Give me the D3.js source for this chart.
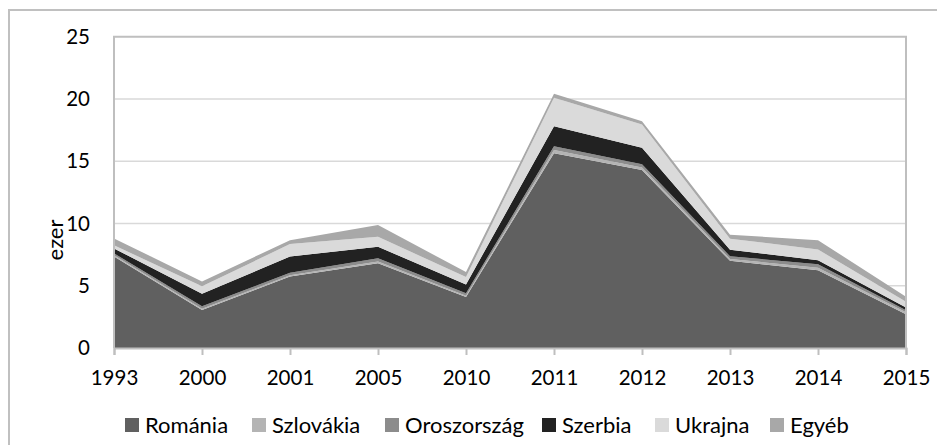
<!DOCTYPE html>
<html>
<head>
<meta charset="utf-8">
<script src="https://cdn.jsdelivr.net/npm/d3@7"></script>
<style>
  html, body { margin: 0; padding: 0; background: #fff; }
  svg { display: block; font-family: Lato, "Open Sans", sans-serif; }
</style>
</head>
<body>
<svg id="chart" width="937" height="445"></svg>
<script>
const years = ["1993","2000","2001","2005","2010","2011","2012","2013","2014","2015"];
const romania     = [7.35, 3.05, 5.75, 6.8, 4.1, 15.65, 14.3, 7.0, 6.25, 2.72];
const szlovakia   = [0.1, 0.1, 0.1, 0.15, 0.1, 0.25, 0.2, 0.15, 0.2, 0.15];
const oroszorszag = [0.15, 0.2, 0.2, 0.25, 0.2, 0.3, 0.25, 0.22, 0.28, 0.17];
const szerbia     = [0.4, 1.0, 1.3, 0.93, 0.7, 1.6, 1.33, 0.53, 0.32, 0.22];
const ukrajna     = [0.25, 0.6, 1.0, 0.8, 0.6, 2.3, 1.87, 0.88, 0.86, 0.45];
const egyeb       = [0.55, 0.4, 0.3, 0.94, 0.4, 0.32, 0.27, 0.32, 0.75, 0.4];
const seriesNames = ["Románia","Szlovákia","Oroszország","Szerbia","Ukrajna","Egyéb"];
const yTicks = [0, 5, 10, 15, 20, 25];
const yTitle = "ezer";

const colors = ["#606060", "#b4b4b4", "#8c8c8c", "#222222", "#dadada", "#a8a8a8"];
const seriesValues = [romania, szlovakia, oroszorszag, szerbia, ukrajna, egyeb];

const table = years.map((yr, i) => {
  const row = { year: yr };
  seriesNames.forEach((n, k) => row[n] = seriesValues[k][i]);
  return row;
});

const svg = d3.select("#chart");
const pL = 114, pR = 906, pT = 36.7, pB = 348;

// outer frame
svg.append("rect").attr("x", 9).attr("y", 10).attr("width", 940).attr("height", 450)
  .attr("fill", "none").attr("stroke", "#c0c0c0").attr("stroke-width", 2);

const x = d3.scalePoint().domain(years).range([pL, pR]);
const y = d3.scaleLinear().domain([0, 25]).range([pB, pT]);

// gridlines
svg.append("g").selectAll("line").data(yTicks.filter(t => t > 0 && t < 25)).join("line")
  .attr("x1", pL).attr("x2", pR)
  .attr("y1", d => y(d)).attr("y2", d => y(d))
  .attr("stroke", "#d9d9d9").attr("stroke-width", 1.5);

const stacked = d3.stack().keys(seriesNames)(table);
const area = d3.area()
  .x(d => x(d.data.year))
  .y0(d => y(d[0]))
  .y1(d => y(d[1]));

svg.append("g").selectAll("path").data(stacked).join("path")
  .attr("d", area)
  .attr("fill", (d, i) => colors[i]);

// plot border
svg.append("path")
  .attr("d", `M${pL},${pB}V${pT}H${pR}V${pB}`)
  .attr("fill", "none").attr("stroke", "#bfbfbf").attr("stroke-width", 2);

// x axis
const xAxis = d3.axisBottom(x).tickSize(7).tickPadding(15);
const gx = svg.append("g").attr("transform", `translate(0,${pB})`).call(xAxis);
gx.select(".domain").attr("stroke", "#bfbfbf").attr("stroke-width", 2);
gx.selectAll(".tick line").attr("stroke", "#bfbfbf").attr("stroke-width", 2);
gx.selectAll("text").attr("font-size", 20.5).attr("fill", "#000").attr("font-family", "Lato, sans-serif");

// y axis
const yAxis = d3.axisLeft(y).tickValues(yTicks).tickSize(0).tickPadding(24);
const gy = svg.append("g").attr("transform", `translate(${pL},0)`).call(yAxis);
gy.select(".domain").remove();
gy.selectAll("text").attr("font-size", 20.5).attr("fill", "#000").attr("font-family", "Lato, sans-serif");

// y title
svg.append("text")
  .attr("transform", `translate(63,240) rotate(-90)`)
  .attr("text-anchor", "middle")
  .attr("font-size", 22).attr("fill", "#000")
  .text(yTitle);

// legend
const legendX = [125, 252, 385, 542, 655, 770];
const lg = svg.append("g").selectAll("g").data(seriesNames).join("g")
  .attr("transform", (d, i) => `translate(${legendX[i]},418)`);
lg.append("rect").attr("width", 14).attr("height", 14).attr("fill", (d, i) => colors[i]);
lg.append("text").attr("x", 20).attr("y", 15).attr("font-size", 22).attr("fill", "#000")
  .text(d => d);
</script>
</body>
</html>
